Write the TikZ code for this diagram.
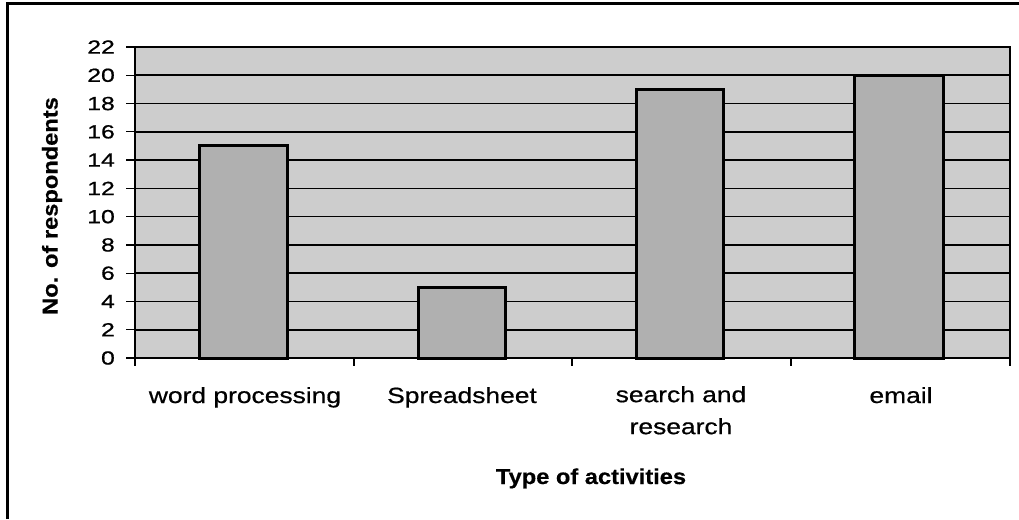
\documentclass[tikz,border=0pt]{standalone}
\usepackage{fontspec}
\newfontfamily\tickfont[FakeStretch=1.3,FakeBold=0.8]{Liberation Sans}
\newfontfamily\catfont[FakeStretch=1.2,FakeBold=0.6]{Liberation Sans}
\newfontfamily\titlefont[FakeStretch=1.1,FakeBold=0.5]{Liberation Sans}
\definecolor{plotbg}{RGB}{205,205,205}
\definecolor{barfill}{RGB}{176,176,176}
\tikzset{
  gridline/.style={black, line width=1.6pt},
  axisline/.style={black, line width=2.2pt},
  tickmark/.style={black, line width=1.3pt},
  barbox/.style={fill=barfill, draw=black, line width=3pt},
  ticklabel/.style={anchor=east, inner sep=0pt, font=\tickfont\fontsize{19}{20}\selectfont},
  catlabel/.style={anchor=base, inner sep=0pt, align=center, font=\catfont\fontsize{22}{32}\selectfont},
  axistitle/.style={inner sep=0pt, font=\titlefont\bfseries\fontsize{21.5}{24}\selectfont},
}
\begin{document}
\begin{tikzpicture}[x=1pt, y=-1pt]
  \useasboundingbox (0,0) rectangle (1019,519);
  \fill[white] (0,0) rectangle (1019,519);
  % outer frame (top and left edges)
  \draw[black, line width=3pt] (7,519) -- (7,4) -- (1019,4);
  % plot area
  \fill[plotbg] (135,47) rectangle (1010,358);
  \foreach \v in {2,4,...,20}
    \draw[gridline] (135,{358-14.136*\v}) -- (1010,{358-14.136*\v});
  \draw[gridline] (135,47) -- (1010,47) -- (1010,358);
  % value axis ticks and labels
  \foreach \v in {0,2,...,22} {
    \draw[tickmark] (126,{358-14.136*\v}) -- (135,{358-14.136*\v});
    \node[ticklabel] (tick\v) at (115,{358-14.136*\v}) {\v};
  }
  % bars
  \foreach \nm/\l/\r/\val in {wp/199/287/15, ss/418/505/5, sr/636/723/19, em/854/943/20}
    \draw[barbox] (\l,358) rectangle (\r,{358-14.136*\val}) coordinate (bar\nm);
  % axes
  \draw[axisline] (135,47) -- (135,358);
  \draw[axisline] (135,358) -- (1010,358);
  \foreach \x in {135,354,572,791,1010}
    \draw[tickmark] (\x,358) -- (\x,366);
  % category labels
  \node[catlabel] (cwp) at (245,403) {word processing};
  \node[catlabel] (css) at (462,403) {Spreadsheet};
  \node[catlabel, anchor=north] (csr) at (681,386) {search and\\research};
  \node[catlabel] (cem) at (901,403) {email};
  % axis titles
  \node[axistitle, anchor=base] (xtitle) at (591,484) {Type of activities};
  \node[axistitle, rotate=90] (ytitle) at (52,206) {No. of respondents};
\end{tikzpicture}
\end{document}
